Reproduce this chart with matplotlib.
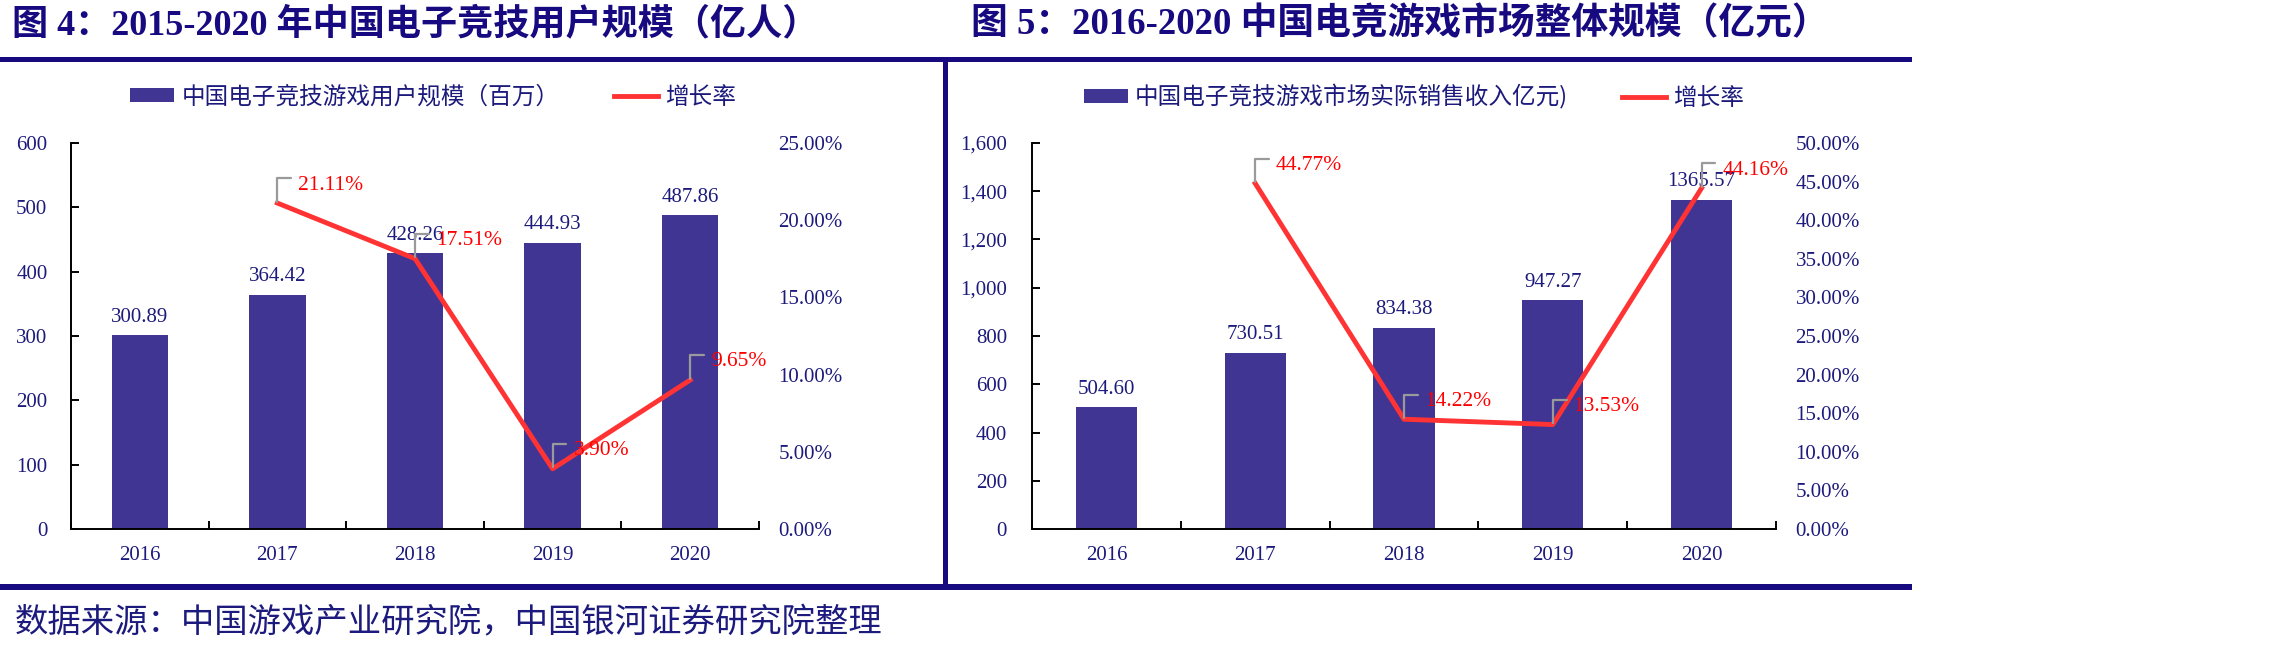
import numpy as np
import matplotlib
matplotlib.use('Agg')
import matplotlib.pyplot as plt
from matplotlib.patches import Rectangle
from matplotlib.ticker import FuncFormatter, MultipleLocator

# data
years = ['2016', '2017', '2018', '2019', '2020']
users = [300.89, 364.42, 428.26, 444.93, 487.86]
users_growth = [None, 21.11, 17.51, 3.90, 9.65]
market = [504.60, 730.51, 834.38, 947.27, 1365.57]
market_growth = [None, 44.77, 14.22, 13.53, 44.16]

title_left = '图 4：2015-2020 年中国电子竞技用户规模（亿人）'
title_right = '图 5：2016-2020 中国电竞游戏市场整体规模（亿元）'
bar_name_left = '中国电子竞技游戏用户规模（百万）'
bar_name_right = '中国电子竞技游戏市场实际销售收入亿元)'
line_name = '增长率'
source = '数据来源：中国游戏产业研究院，中国银河证券研究院整理'

NAVY = '#170a80'
TXT = '#1c1a7c'
BAR = '#413594'
RED = '#ff3333'
SERIF = 'Liberation Serif'
CJK = 'Noto Sans CJK SC'

W, H = 2280, 654
fig = plt.figure(figsize=(W / 100, H / 100), dpi=100)


def panel(rect, values, growth, ymax, ystep, pmax, yfmt, bar_name, leg_x, ypad):
    ax = fig.add_axes(rect)
    x = np.arange(len(years))
    ax.bar(x, values, width=0.41, color=BAR, label=bar_name, zorder=2)
    ax.set_xlim(-0.5, len(years) - 0.5)
    ax.set_ylim(0, ymax)
    ax.yaxis.set_major_locator(MultipleLocator(ystep))
    ax.yaxis.set_major_formatter(FuncFormatter(yfmt))

    # boundary ticks on the axis, year labels at the bar centres
    ax.set_xticks(np.arange(-0.5, len(years)), labels=[''] * (len(years) + 1))
    ax.set_xticks(x, labels=years, minor=True)
    ax.tick_params(axis='x', which='major', direction='in', length=6, width=1.4)
    ax.tick_params(axis='x', which='minor', length=0, pad=12, labelsize=15, labelcolor=TXT)
    ax.tick_params(axis='y', direction='in', length=6, width=1.4, pad=ypad,
                   labelsize=15, labelcolor=TXT)
    for lab in ax.get_xticklabels(minor=True) + ax.get_yticklabels():
        lab.set_family(SERIF)
    ax.spines['top'].set_visible(False)
    ax.spines['right'].set_visible(False)
    ax.spines['left'].set_linewidth(1.4)
    ax.spines['bottom'].set_linewidth(1.4)

    for xi, v in zip(x, values):
        ax.annotate(f'{v:.2f}', (xi, v), xytext=(0, 6), textcoords='offset points',
                    ha='center', va='bottom', color=TXT, fontsize=15, family=SERIF)

    ax2 = ax.twinx()
    ax2.set_ylim(0, pmax)
    ax2.yaxis.set_major_locator(MultipleLocator(0.05))
    ax2.yaxis.set_major_formatter(FuncFormatter(lambda v, p: f'{v:.2%}'))
    ax2.tick_params(axis='y', length=0, pad=14, labelsize=15, labelcolor=TXT)
    for lab in ax2.get_yticklabels():
        lab.set_family(SERIF)
    for s in ax2.spines.values():
        s.set_visible(False)

    gx = [i for i, g in enumerate(growth) if g is not None]
    gy = [growth[i] / 100 for i in gx]
    ax2.plot(gx, gy, color=RED, lw=3.5, label=line_name, zorder=3)
    for xi, yi in zip(gx, gy):
        ax2.annotate(f'{yi:.2%}', (xi, yi), xytext=(15, 13), textcoords='offset points',
                     color='red', fontsize=15.5, family=SERIF, ha='left', va='center',
                     arrowprops=dict(arrowstyle='-', color='#9a9a9a', lw=1.6,
                                     connectionstyle='angle,angleA=0,angleB=90,rad=0',
                                     relpos=(0, 0.85), shrinkA=3, shrinkB=1))

    h1, l1 = ax.get_legend_handles_labels()
    h2, l2 = ax2.get_legend_handles_labels()
    ax2.legend(h1 + h2, l1 + l2, ncol=2, loc='center', frameon=False,
               bbox_to_anchor=(leg_x / W, 1 - 97 / H), bbox_transform=fig.transFigure,
               prop={'family': CJK, 'size': 17}, labelcolor=TXT,
               handlelength=1.86, handleheight=0.5, handletextpad=0.3, columnspacing=2.3)
    return ax, ax2


panel([71 / W, 125 / H, 688 / W, 386 / H], users, users_growth, 600, 100, 0.25,
      lambda v, p: f'{v:.0f}', bar_name_left, 433, 17)
panel([1032 / W, 125 / H, 744 / W, 386 / H], market, market_growth, 1600, 200, 0.50,
      lambda v, p: f'{v:,.0f}', bar_name_right, 1414, 18)

# titles
fig.text(12 / W, 1 - 25 / H, title_left, ha='left', va='center', family=[SERIF, CJK],
         weight='bold', size=26, color=NAVY)
fig.text(971 / W, 1 - 25 / H, title_right, ha='left', va='center', family=[SERIF, CJK],
         weight='bold', size=26.5, color=NAVY)

# frame bars
fig.add_artist(Rectangle((0, 1 - 62 / H), 1912 / W, 5 / H, transform=fig.transFigure,
                         color=NAVY, lw=0))
fig.add_artist(Rectangle((0, 1 - 590 / H), 1912 / W, 6 / H, transform=fig.transFigure,
                         color=NAVY, lw=0))
fig.add_artist(Rectangle((943 / W, 1 - 590 / H), 5 / W, 533 / H, transform=fig.transFigure,
                         color=NAVY, lw=0))

fig.text(15 / W, 1 - 623 / H, source, ha='left', va='center', family=CJK, size=24,
         color=TXT)

fig.savefig('out.png', dpi=100)
